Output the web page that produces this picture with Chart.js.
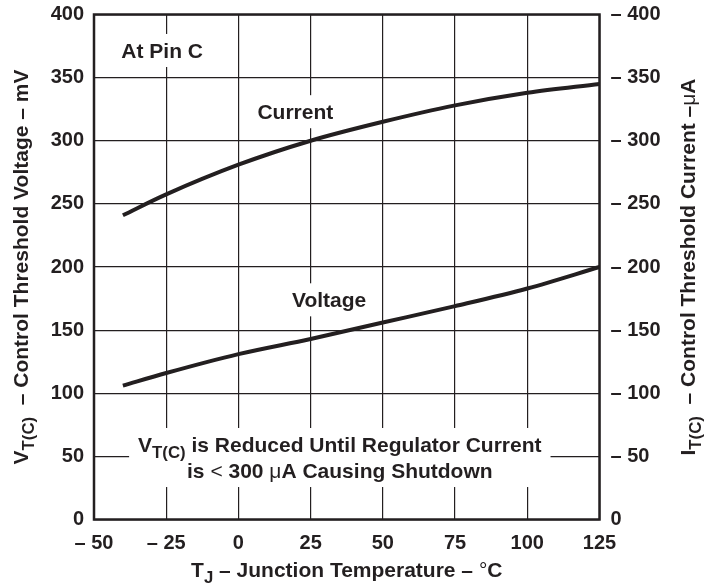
<!DOCTYPE html>
<html>
<head>
<meta charset="utf-8">
<script src="https://cdn.jsdelivr.net/npm/chart.js@4.4.1/dist/chart.umd.min.js"></script>
<style>
  html, body { margin: 0; padding: 0; background: #fff; }
  #wrap { width: 719px; height: 586px; position: relative; }
</style>
</head>
<body>
<div id="wrap"><canvas id="vtChart"></canvas></div>
<script>
// values, TJ in °C
const temps = [-40, -25, 0, 25, 50, 75, 100, 125];
const currentUA = [241, 257.5, 281, 300, 315, 328, 338, 345];
const voltageMV = [106, 116, 131, 143, 156, 169, 183, 200];

// axis ranges
const xMin = -50, xMax = 125, xStep = 25;
const yMin = 0, yMax = 400, yStep = 50;

const INK = '#231f20';
const FONT = '"Liberation Sans", Arial, Helvetica, sans-serif';
const TEXT_SIZE = 21;

// text boxes placed in data units (temperature, mV)
const notes = [
    { x: -26.4, y: 371.5, lines: [[{ t: 'At Pin C' }]] },
    { x: 19.7, y: 323, lines: [[{ t: 'Current' }]] },
    { x: 31.4, y: 174, lines: [[{ t: 'Voltage' }]] },
    { x: 35.1, y: 59.4, lines: [
        [{ t: 'V' }, { t: 'T(C)', sub: true }, { t: ' is Reduced Until Regulator Current' }],
        [{ t: 'is ' }, { t: '<', light: true }, { t: ' 300 ' }, { t: '\u03bc', light: true }, { t: 'A Causing Shutdown' }]
    ] }
];

function fmtMinus(v) {
    return v < 0 ? '\u2013 ' + Math.abs(v) : String(v);
}

function segFont(seg, size) {
    const fs = seg.sub ? size * 0.8 : size;
    return (seg.light ? 'normal ' : 'bold ') + fs + 'px ' + FONT;
}

function richWidth(ctx, segs, size) {
    let w = 0;
    segs.forEach(s => { ctx.font = segFont(s, size); w += ctx.measureText(s.t).width; });
    return w;
}

// draws a line of text centred on (x, y) at cap-height middle
function drawRich(ctx, segs, x, y, size, rot) {
    ctx.save();
    ctx.translate(x, y);
    ctx.rotate(rot || 0);
    ctx.fillStyle = INK;
    ctx.textAlign = 'left';
    ctx.textBaseline = 'alphabetic';
    let cx = -richWidth(ctx, segs, size) / 2;
    const base = size * 0.358;
    segs.forEach(s => {
        ctx.font = segFont(s, size);
        ctx.fillText(s.t, cx, base + (s.sub ? size * 0.3 : 0));
        cx += ctx.measureText(s.t).width;
    });
    ctx.restore();
}

const notesPlugin = {
    id: 'notes',
    beforeDatasetsDraw(chart) {
        const ctx = chart.ctx;
        const xs = chart.scales.x, ys = chart.scales.y;
        const gap = 26;
        notes.forEach(n => {
            const px = xs.getPixelForValue(n.x);
            const py = ys.getPixelForValue(n.y);
            let w = 0;
            n.lines.forEach(l => { w = Math.max(w, richWidth(ctx, l, TEXT_SIZE)); });
            const cap = TEXT_SIZE * 0.716;
            const top = py - cap / 2 - 9;
            const bottom = py + (n.lines.length - 1) * gap + cap / 2 + 9;
            ctx.fillStyle = '#fff';
            ctx.fillRect(px - w / 2 - 9, top, w + 18, bottom - top);
            n.lines.forEach((l, i) => drawRich(ctx, l, px, py + i * gap, TEXT_SIZE, 0));
        });
    },
    afterDraw(chart) {
        const ctx = chart.ctx;
        const a = chart.chartArea;
        ctx.save();
        ctx.strokeStyle = INK;
        ctx.lineWidth = 2.5;
        ctx.strokeRect(a.left, a.top, a.right - a.left, a.bottom - a.top);
        ctx.restore();

        const midY = (a.top + a.bottom) / 2;
        drawRich(ctx, [{ t: 'V' }, { t: 'T(C)', sub: true }, { t: '  \u2013 Control Threshold Voltage \u2013 mV' }],
            a.left - 74, midY, TEXT_SIZE, -Math.PI / 2);
        drawRich(ctx, [{ t: 'I' }, { t: 'T(C)', sub: true }, { t: '  \u2013 Control Threshold Current \u2013' }, { t: '\u03bc', light: true }, { t: 'A' }],
            a.right + 88, midY, TEXT_SIZE, -Math.PI / 2);
        drawRich(ctx, [{ t: 'T' }, { t: 'J', sub: true }, { t: ' \u2013 Junction Temperature \u2013 ' }, { t: '\u00b0', light: true }, { t: 'C' }],
            (a.left + a.right) / 2, a.bottom + 49.5, TEXT_SIZE, 0);
    }
};

const tickFont = { family: FONT, size: 20, weight: 'bold' };

// keep the plot box fixed, no extra room for half labels
function fixPad(scale) {
    scale.paddingTop = 0;
    scale.paddingBottom = 0;
    scale.paddingLeft = 0;
    scale.paddingRight = 0;
}

const ctx = document.getElementById('vtChart');
new Chart(ctx, {
    type: 'line',
    data: {
        datasets: [
            {
                label: 'Current',
                data: temps.map((t, i) => ({ x: t, y: currentUA[i] })),
                yAxisID: 'y1',
                borderColor: INK,
                borderWidth: 4,
                pointRadius: 0,
                cubicInterpolationMode: 'monotone',
                fill: false
            },
            {
                label: 'Voltage',
                data: temps.map((t, i) => ({ x: t, y: voltageMV[i] })),
                yAxisID: 'y',
                borderColor: INK,
                borderWidth: 4,
                pointRadius: 0,
                cubicInterpolationMode: 'monotone',
                fill: false
            }
        ]
    },
    options: {
        responsive: true,
        maintainAspectRatio: false,
        animation: false,
        layout: { padding: { top: 14.5, left: 0, right: 0, bottom: 0 } },
        plugins: {
            legend: { display: false },
            tooltip: { enabled: false },
            title: { display: false }
        },
        scales: {
            x: {
                type: 'linear',
                min: xMin,
                max: xMax,
                border: { display: false },
                grid: { color: INK, lineWidth: 1.2, drawTicks: false },
                ticks: {
                    stepSize: xStep,
                    autoSkip: false,
                    maxRotation: 0,
                    padding: 12,
                    color: INK,
                    font: tickFont,
                    callback: v => fmtMinus(v)
                },
                afterFit(scale) { scale.height = 66.5; fixPad(scale); }
            },
            y: {
                position: 'left',
                min: yMin,
                max: yMax,
                border: { display: false },
                grid: { color: INK, lineWidth: 1.2, drawTicks: false },
                ticks: {
                    stepSize: yStep,
                    padding: 10,
                    color: INK,
                    font: tickFont
                },
                afterFit(scale) { scale.width = 94; fixPad(scale); }
            },
            y1: {
                position: 'right',
                min: yMin,
                max: yMax,
                border: { display: false },
                grid: { drawOnChartArea: false, drawTicks: false },
                ticks: {
                    stepSize: yStep,
                    padding: 11,
                    color: INK,
                    font: tickFont,
                    callback: v => v === 0 ? '0' : '\u2013 ' + v
                },
                afterFit(scale) { scale.width = 119.5; fixPad(scale); }
            }
        }
    },
    plugins: [notesPlugin]
});
</script>
</body>
</html>
